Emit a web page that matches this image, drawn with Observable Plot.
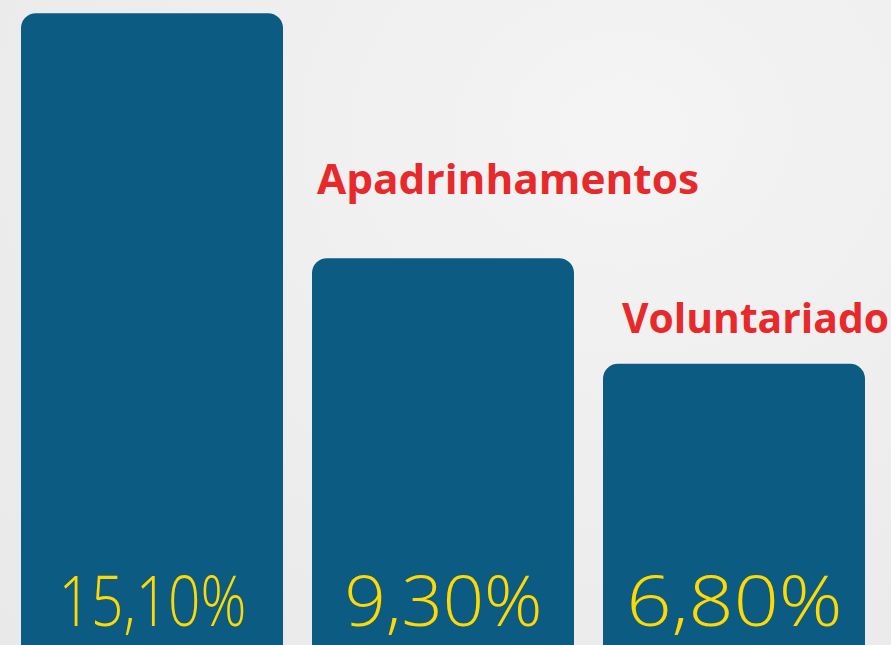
<!DOCTYPE html>
<html>
<head>
<meta charset="utf-8">
<script src="https://cdn.jsdelivr.net/npm/d3@7"></script>
<script src="https://cdn.jsdelivr.net/npm/@observablehq/plot@0.6"></script>
<style>
  html, body { margin: 0; padding: 0; overflow: hidden; width: 891px; height: 645px;
    background: radial-gradient(ellipse at 70% 20%, #f4f4f4 0%, #ededed 55%, #e9e9e9 100%); }
  #chart svg { display: block; background: transparent; }
</style>
</head>
<body>
<div id="chart"></div>
<script>
// Data
const categories = ["Doações", "Apadrinhamentos", "Voluntariado"];
const values = [15.10, 9.30, 6.80];
const visibleLabels = ["Apadrinhamentos", "Voluntariado"];

const data = categories.map((c, i) => ({category: c, value: values[i]}));
const fmt = v => v.toFixed(2).replace(".", ",") + "%";
const byCat = c => data.filter(d => d.category === c);

const BLUE = "#0b5b82";
const RED = "#e8292b";
const YELLOW = "#ffd900";

const chart = Plot.plot({
  width: 891,
  height: 651,
  marginTop: 0,
  marginBottom: 0,
  marginLeft: 21,
  marginRight: 26,
  style: {background: "transparent", overflow: "visible"},
  x: {domain: categories, paddingInner: 29 / 291, paddingOuter: 0, axis: null},
  y: {domain: [0, 651 / 42.24], axis: null},
  marks: [
    Plot.barY(data, {x: "category", y: "value", fill: BLUE, rx: 15, ry: 15, insetBottom: -30}),
    Plot.text(data, {
      x: "category", y: 0, text: d => fmt(d.value),
      fill: YELLOW, fontSize: 70, fontWeight: 300,
      fontFamily: "'Open Sans', sans-serif",
      lineAnchor: "bottom", dy: -26, textAnchor: "middle"
    }),
    Plot.text(byCat(visibleLabels[0]), {
      x: "category", y: "value", text: "category",
      fill: RED, fontSize: 42, fontWeight: 700,
      fontFamily: "'Open Sans', sans-serif",
      textAnchor: "start", lineAnchor: "bottom", dx: -126.5, dy: -65
    }),
    Plot.text(byCat(visibleLabels[1]), {
      x: "category", y: "value", text: "category",
      fill: RED, fontSize: 41, fontWeight: 700,
      fontFamily: "'Open Sans', sans-serif",
      textAnchor: "start", lineAnchor: "bottom", dx: -112.5, dy: -31
    })
  ]
});

// fit rendered text widths to the reference lettering
const widths = {"Apadrinhamentos": 382, "Voluntariado": 267, "15,10%": 188, "9,30%": 198, "6,80%": 216};
d3.select(chart).selectAll("text").each(function() {
  const t = this.textContent;
  if (widths[t]) {
    this.setAttribute("textLength", widths[t]);
    this.setAttribute("lengthAdjust", "spacingAndGlyphs");
  }
});

document.getElementById("chart").appendChild(chart);
</script>
</body>
</html>
